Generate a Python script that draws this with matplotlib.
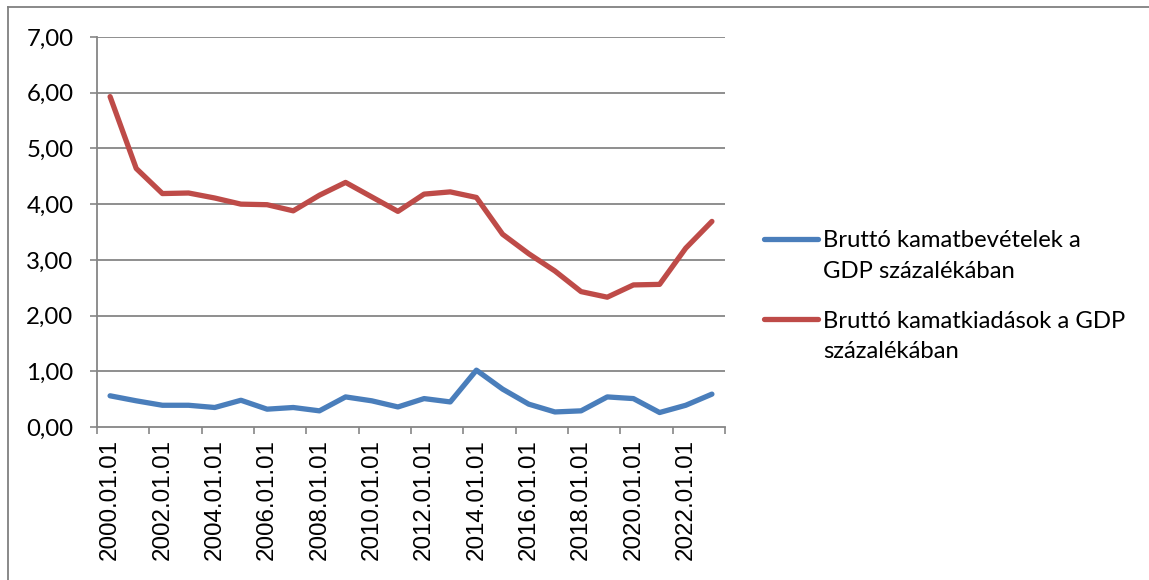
import matplotlib
matplotlib.use("Agg")
import matplotlib.pyplot as plt
from matplotlib.lines import Line2D
import numpy as np

years = list(range(2000, 2024))
cat_labels = [f"{y}.01.01" for y in years]
bevetelek = [0.56, 0.47, 0.39, 0.39, 0.35, 0.48, 0.32, 0.35, 0.29, 0.54, 0.47, 0.36,
             0.51, 0.45, 1.02, 0.68, 0.41, 0.27, 0.29, 0.54, 0.51, 0.26, 0.39, 0.59]
kiadasok = [5.93, 4.64, 4.19, 4.20, 4.11, 4.00, 3.99, 3.88, 4.16, 4.39, 4.13, 3.87,
            4.18, 4.22, 4.12, 3.46, 3.11, 2.80, 2.43, 2.33, 2.55, 2.56, 3.21, 3.69]
series_names = ["Bruttó kamatbevételek a\nGDP százalékában",
                "Bruttó kamatkiadások a GDP\nszázalékában"]
colors = ["#4A7EBB", "#BE4B48"]
yticks = [0, 1, 2, 3, 4, 5, 6, 7]

W, H = 1149, 580
fig = plt.figure(figsize=(W / 100, H / 100), dpi=100)
ax = fig.add_axes([97 / W, 1 - 427 / H, (725 - 97) / W, (427 - 37) / H])

x = np.arange(len(years))
ax.plot(x, bevetelek, color=colors[0], lw=3.8, solid_capstyle="round", solid_joinstyle="round", zorder=3)
ax.plot(x, kiadasok, color=colors[1], lw=3.8, solid_capstyle="round", solid_joinstyle="round", zorder=3)

ax.set_xlim(-0.5, len(years) - 0.5)
ax.set_ylim(0, 7)
gray = "#868686"
ax.set_yticks(yticks)
ax.set_yticklabels([f"{v:.2f}".replace(".", ",") for v in yticks], fontfamily="Lato", fontsize=17.3)
ax.tick_params(axis="y", direction="out", length=5, width=1.2, color=gray, pad=12)
for v in yticks[1:]:
    ax.axhline(v, color=gray, lw=1.3, zorder=1)

ax.set_xticks(np.arange(-0.5, len(years), 2))
ax.set_xticklabels([])
ax.tick_params(axis="x", which="major", direction="out", length=5, width=1.2, color=gray)
ax.set_xticks(x[::2], minor=True)
ax.set_xticklabels(cat_labels[::2], minor=True, rotation=90, fontfamily="Liberation Sans", fontsize=17.4)
ax.tick_params(axis="x", which="minor", length=0, pad=9)

for s in ["top", "right"]:
    ax.spines[s].set_visible(False)
for s in ["left", "bottom"]:
    ax.spines[s].set_color(gray)
    ax.spines[s].set_linewidth(1.3)

# legend
leg_rows = [(239, [247, 278]), (319, [328, 358])]
for (hy, bases), name, c in zip(leg_rows, series_names, colors):
    fig.add_artist(Line2D([764 / W, 818 / W], [1 - hy / H, 1 - hy / H], color=c, lw=3.8,
                          solid_capstyle="round", transform=fig.transFigure))
    for line, by in zip(name.split("\n"), bases):
        fig.text(823 / W, 1 - by / H, line, fontfamily="Lato", fontsize=17.2, va="baseline", ha="left")

# frame
fig.add_artist(Line2D([8 / W, 1.0], [1 - 7 / H, 1 - 7 / H], color="#808080", lw=1.3, transform=fig.transFigure))
fig.add_artist(Line2D([8 / W, 8 / W], [1 - 7 / H, 0], color="#808080", lw=1.3, transform=fig.transFigure))

fig.savefig("out.png", dpi=100)
